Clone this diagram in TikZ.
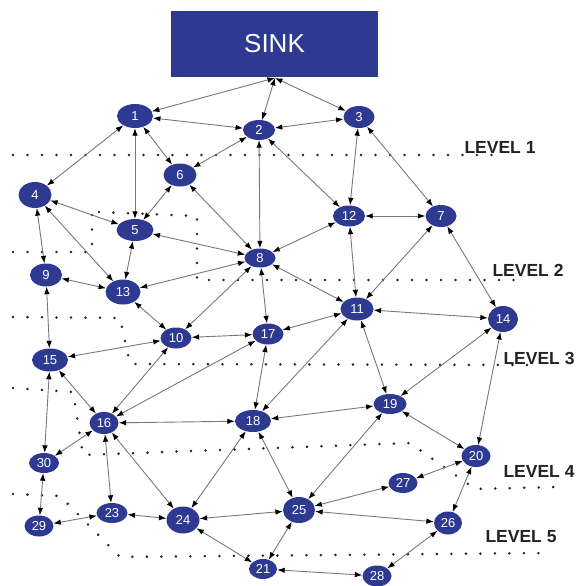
\documentclass[tikz,border=0pt]{standalone}
\usepackage{fontspec}
\setmainfont{Liberation Sans}
\usetikzlibrary{arrows.meta,shapes.geometric}
\definecolor{nodeblue}{RGB}{46,58,146}
\definecolor{edgegray}{RGB}{120,120,120}
\definecolor{levelgray}{RGB}{35,35,35}
\tikzset{
  nd/.style={ellipse,fill=nodeblue,text=white,inner sep=0pt,minimum width=31pt,minimum height=22pt,font=\fontsize{13}{13}\selectfont},
  lnk/.style={draw=edgegray,line width=0.9pt,{Latex[length=7.5pt,width=5.5pt,color=black]}-{Latex[length=7.5pt,width=5.5pt,color=black]}},
  lvl/.style={draw=levelgray,line width=2.8pt,line cap=round,dash pattern=on 0pt off 14.5pt},
  lvltext/.style={text=levelgray,font=\bfseries\fontsize{17.5}{17.5}\selectfont,inner sep=0pt}
}
\begin{document}
\begin{tikzpicture}[x=1pt,y=-1pt]
\useasboundingbox (0,0) rectangle (577,586);
% level lines
\draw[lvl] (13,155) -- (497,155);
\draw[lvl] (13,252) -- (92,252) -- (92,204);
\draw[lvl] (99,212) -- (197,216) -- (197,280) -- (520,280);
\draw[lvl] (13,317) -- (120,318) -- (130,364) -- (537,365);
\draw[lvl] (13,388) -- (73,392) -- (83,455) -- (410,443) -- (475,489) -- (557,487);
\draw[lvl] (13,494) -- (60,496) -- (120,557) -- (542,553);
% level labels
\node[lvltext] (l1) at (500,147) {LEVEL 1};
\node[lvltext] (l2) at (528,270) {LEVEL 2};
\node[lvltext] (l3) at (539,358) {LEVEL 3};
\node[lvltext] (l4) at (539,471) {LEVEL 4};
\node[lvltext] (l5) at (521,537) {LEVEL 5};
% sink
\node[fill=nodeblue,text=white,minimum width=207pt,minimum height=66pt,inner sep=0pt,font=\fontsize{26}{26}\selectfont] (sink) at (274.5,44) {SINK};
\coordinate (sk) at (275,78);
% nodes
\node[nd,minimum width=36pt,minimum height=24pt] (n1) at (135,116) {1};
\node[nd,minimum width=32pt,minimum height=20pt] (n2) at (259,130) {2};
\node[nd] (n3) at (359,117) {3};
\node[nd,minimum width=33pt,minimum height=26pt] (n4) at (35,195) {4};
\node[nd,minimum width=37pt,minimum height=22pt] (n5) at (135,230) {5};
\node[nd,minimum width=33pt,minimum height=23pt] (n6) at (180,175) {6};
\node[nd] (n7) at (441,216) {7};
\node[nd,minimum width=31pt,minimum height=19pt] (n8) at (260,258) {8};
\node[nd,minimum width=32pt,minimum height=23pt] (n9) at (46,275) {9};
\node[nd,minimum width=31pt,minimum height=21pt] (n10) at (176,338) {10};
\node[nd,minimum width=33pt,minimum height=23pt] (n11) at (357,309) {11};
\node[nd,minimum width=32pt,minimum height=21pt] (n12) at (349,216) {12};
\node[nd,minimum width=35pt,minimum height=25pt] (n13) at (123,292) {13};
\node[nd,minimum width=30pt,minimum height=26pt] (n14) at (503,319) {14};
\node[nd,minimum width=36pt,minimum height=23pt] (n15) at (50,360) {15};
\node[nd,minimum width=29pt,minimum height=22pt] (n16) at (104,423) {16};
\node[nd,minimum width=31pt,minimum height=21pt] (n17) at (268,334) {17};
\node[nd,minimum width=36pt,minimum height=22pt] (n18) at (253,421) {18};
\node[nd,minimum width=33pt,minimum height=20pt] (n19) at (390,404) {19};
\node[nd,minimum width=29pt,minimum height=22pt] (n20) at (476,456) {20};
\node[nd,minimum width=28pt,minimum height=20pt] (n21) at (263,569) {21};
\node[nd,minimum width=31pt,minimum height=20pt] (n23) at (112,513) {23};
\node[nd,minimum width=33pt,minimum height=27pt] (n24) at (183,520) {24};
\node[nd,minimum width=32pt,minimum height=26pt] (n25) at (299,510) {25};
\node[nd,minimum width=28pt,minimum height=23pt] (n26) at (448,523) {26};
\node[nd,minimum width=29pt,minimum height=20pt] (n27) at (403,483) {27};
\node[nd,minimum width=29pt,minimum height=21pt] (n28) at (377,576) {28};
\node[nd,minimum width=29pt,minimum height=21pt] (n29) at (39,526) {29};
\node[nd,minimum width=30pt,minimum height=20pt] (n30) at (44,463) {30};
% connectors
\foreach \a/\b in {sk/n1,sk/n2,sk/n3}
  \draw[lnk] (\a) -- (\b);
\foreach \a/\b in {n1/n2,n1/n6,n1/n4,n1/n5,n2/n3,n2/n6,n2/n8,n2/n12,n3/n12,n3/n7,
  n4/n5,n4/n9,n4/n13,n6/n5,n6/n8,n5/n13,n5/n8,n8/n12,n8/n13,n8/n10,n8/n17,n8/n11,
  n12/n7,n12/n11,n7/n11,n7/n14,n9/n13,n9/n15,n13/n10,n10/n17,n10/n15,n10/n16,
  n17/n11,n17/n16,n17/n18,n11/n14,n11/n18,n11/n19,n14/n19,n14/n20,n15/n16,n15/n30,
  n16/n18,n16/n30,n16/n23,n16/n24,n18/n24,n18/n25,n18/n19,n19/n20,n19/n25,n20/n27,
  n20/n26,n25/n26,n25/n27,n25/n24,n25/n21,n24/n21,n24/n23,n23/n29,n29/n30,n21/n28,n26/n28}
  \draw[lnk] (\a) -- (\b);
\end{tikzpicture}
\end{document}
